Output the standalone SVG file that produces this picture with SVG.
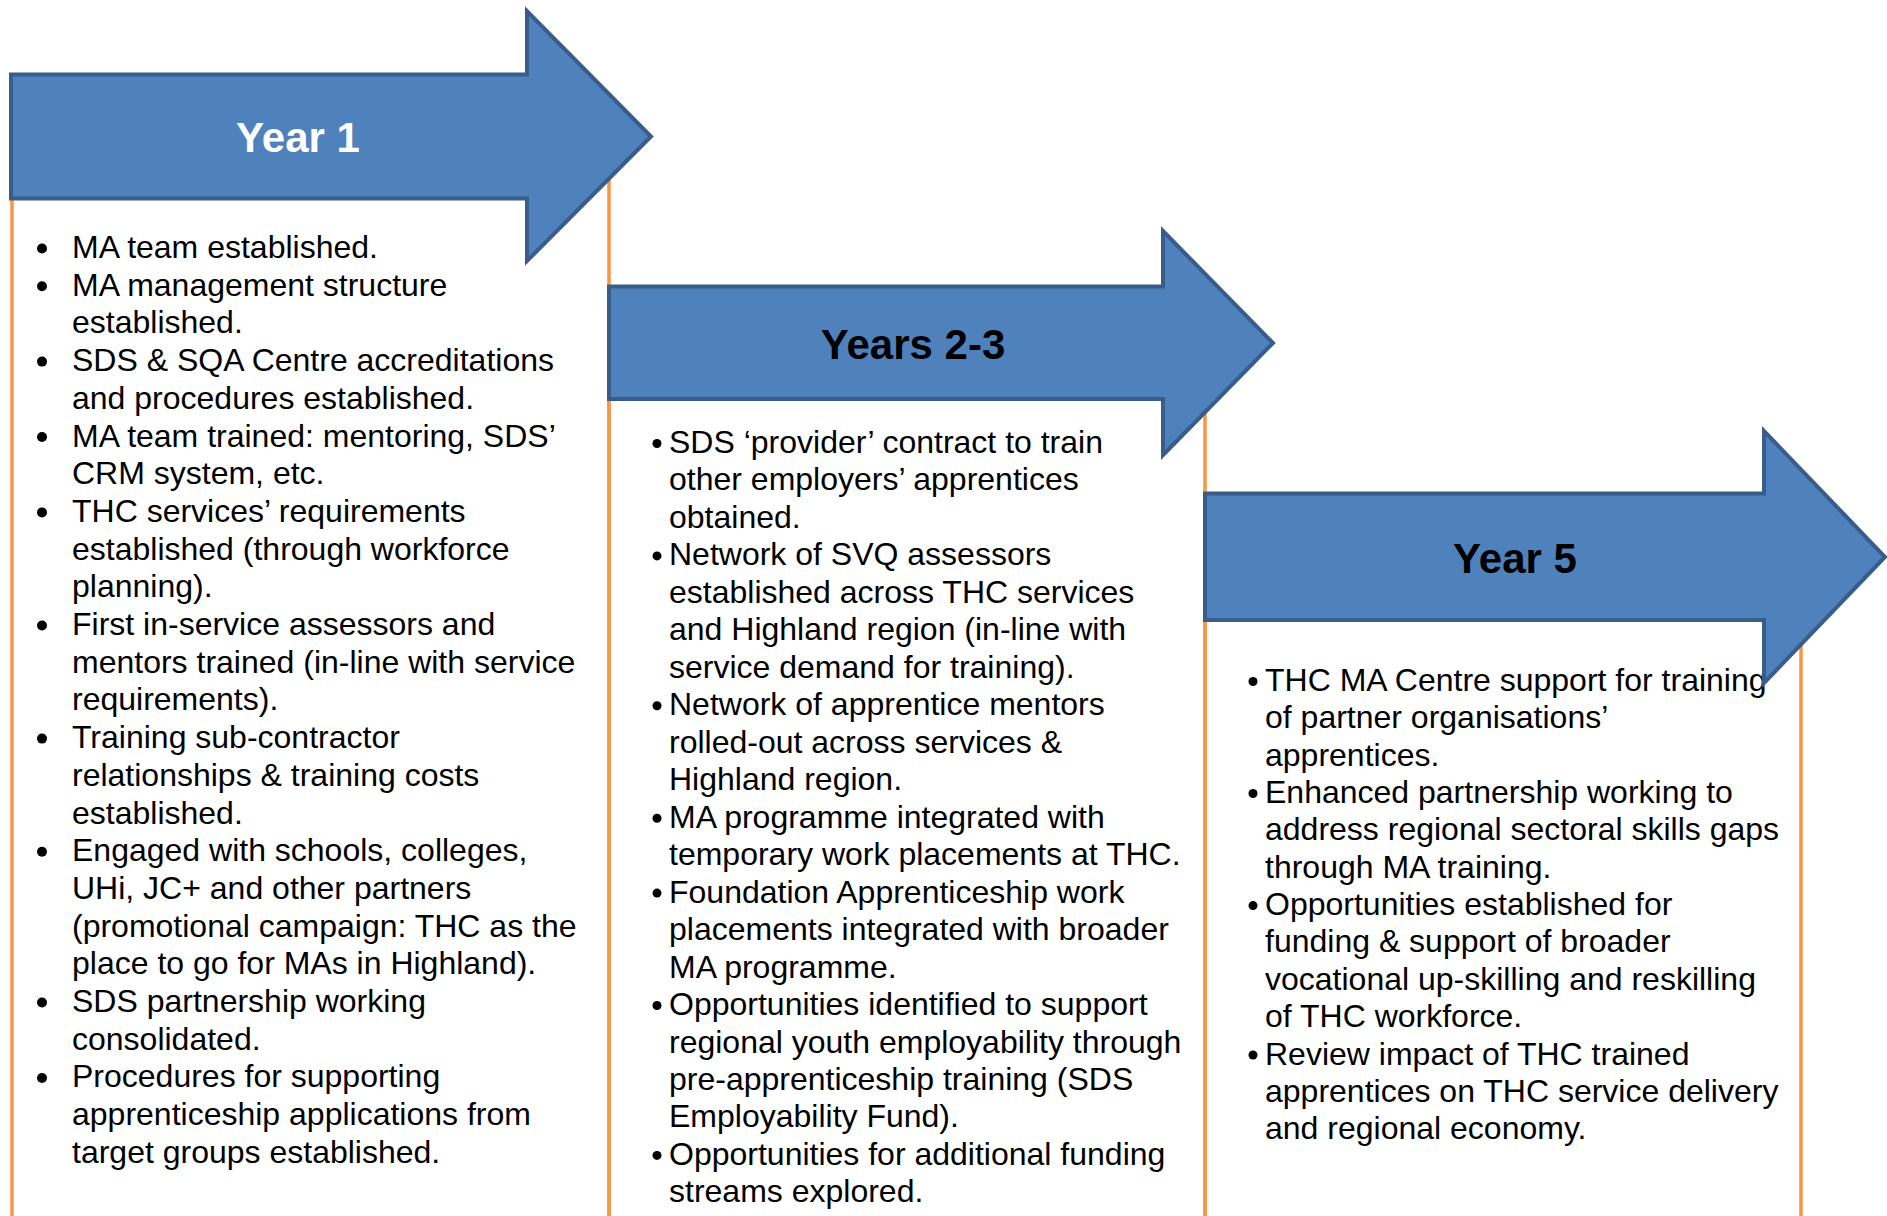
<svg xmlns="http://www.w3.org/2000/svg" width="1887" height="1216" viewBox="0 0 1887 1216">
<style>
.box{fill:none;stroke:#F79646;stroke-width:3.5}
.arrow{fill:#4F81BD;stroke:#385D8A;stroke-width:4;stroke-linejoin:miter}
.head{font-family:"Liberation Sans",Arial,sans-serif;font-weight:bold;font-size:42px;text-anchor:middle}
.t{font-family:"Liberation Sans",Arial,sans-serif;font-size:32px;fill:#000}
.b{fill:#000}
</style>
<rect width="1887" height="1216" fill="#fff"/>
<g id="boxes">
<rect class="box" x="12" y="140" width="597" height="1100"/>
<rect class="box" x="609" y="340" width="596" height="900"/>
<rect class="box" x="1205" y="560" width="596" height="700"/>
</g>
<g id="col1">
<g class="b">
<circle cx="42" cy="248.5" r="5"/><circle cx="42" cy="286.2" r="5"/><circle cx="42" cy="361.6" r="5"/><circle cx="42" cy="437" r="5"/><circle cx="42" cy="512.4" r="5"/><circle cx="42" cy="625.5" r="5"/><circle cx="42" cy="738.6" r="5"/><circle cx="42" cy="851.7" r="5"/><circle cx="42" cy="1002.5" r="5"/><circle cx="42" cy="1078" r="5"/>
</g>
<text class="t">
<tspan x="72" y="258">MA team established.</tspan>
<tspan x="72" y="295.7">MA management structure</tspan>
<tspan x="72" y="333.4">established.</tspan>
<tspan x="72" y="371.1">SDS &amp; SQA Centre accreditations</tspan>
<tspan x="72" y="408.8">and procedures established.</tspan>
<tspan x="72" y="446.5">MA team trained: mentoring, SDS’</tspan>
<tspan x="72" y="484.2">CRM system, etc.</tspan>
<tspan x="72" y="521.9">THC services’ requirements</tspan>
<tspan x="72" y="559.6">established (through workforce</tspan>
<tspan x="72" y="597.3">planning).</tspan>
<tspan x="72" y="635">First in-service assessors and</tspan>
<tspan x="72" y="672.7">mentors trained (in-line with service</tspan>
<tspan x="72" y="710.4">requirements).</tspan>
<tspan x="72" y="748.1">Training sub-contractor</tspan>
<tspan x="72" y="785.8">relationships &amp; training costs</tspan>
<tspan x="72" y="823.5">established.</tspan>
<tspan x="72" y="861.2">Engaged with schools, colleges,</tspan>
<tspan x="72" y="898.9">UHi, JC+ and other partners</tspan>
<tspan x="72" y="936.6">(promotional campaign: THC as the</tspan>
<tspan x="72" y="974.3">place to go for MAs in Highland).</tspan>
<tspan x="72" y="1012">SDS partnership working</tspan>
<tspan x="72" y="1049.7">consolidated.</tspan>
<tspan x="72" y="1087.4">Procedures for supporting</tspan>
<tspan x="72" y="1125.1">apprenticeship applications from</tspan>
<tspan x="72" y="1162.8">target groups established.</tspan>
</text>
</g>
<g id="col2">
<g class="b">
<circle cx="657" cy="443.5" r="4.5"/><circle cx="657" cy="555.9" r="4.5"/><circle cx="657" cy="705.8" r="4.5"/><circle cx="657" cy="818.2" r="4.5"/><circle cx="657" cy="893.1" r="4.5"/><circle cx="657" cy="1005.5" r="4.5"/><circle cx="657" cy="1155.4" r="4.5"/>
</g>
<text class="t">
<tspan x="669" y="453">SDS ‘provider’ contract to train</tspan>
<tspan x="669" y="490.47">other employers’ apprentices</tspan>
<tspan x="669" y="527.94">obtained.</tspan>
<tspan x="669" y="565.41">Network of SVQ assessors</tspan>
<tspan x="669" y="602.88">established across THC services</tspan>
<tspan x="669" y="640.35">and Highland region (in-line with</tspan>
<tspan x="669" y="677.82">service demand for training).</tspan>
<tspan x="669" y="715.29">Network of apprentice mentors</tspan>
<tspan x="669" y="752.76">rolled-out across services &amp;</tspan>
<tspan x="669" y="790.23">Highland region.</tspan>
<tspan x="669" y="827.7">MA programme integrated with</tspan>
<tspan x="669" y="865.17">temporary work placements at THC.</tspan>
<tspan x="669" y="902.64">Foundation Apprenticeship work</tspan>
<tspan x="669" y="940.11">placements integrated with broader</tspan>
<tspan x="669" y="977.58">MA programme.</tspan>
<tspan x="669" y="1015.05">Opportunities identified to support</tspan>
<tspan x="669" y="1052.52">regional youth employability through</tspan>
<tspan x="669" y="1089.99">pre-apprenticeship training (SDS</tspan>
<tspan x="669" y="1127.46">Employability Fund).</tspan>
<tspan x="669" y="1164.93">Opportunities for additional funding</tspan>
<tspan x="669" y="1202.4">streams explored.</tspan>
</text>
</g>
<g id="col3">
<g class="b">
<circle cx="1253" cy="681.5" r="4.5"/><circle cx="1253" cy="793.5" r="4.5"/><circle cx="1253" cy="905.6" r="4.5"/><circle cx="1253" cy="1055" r="4.5"/>
</g>
<text class="t">
<tspan x="1265" y="691">THC MA Centre support for training</tspan>
<tspan x="1265" y="728.35">of partner organisations’</tspan>
<tspan x="1265" y="765.7">apprentices.</tspan>
<tspan x="1265" y="803.05">Enhanced partnership working to</tspan>
<tspan x="1265" y="840.4">address regional sectoral skills gaps</tspan>
<tspan x="1265" y="877.75">through MA training.</tspan>
<tspan x="1265" y="915.1">Opportunities established for</tspan>
<tspan x="1265" y="952.45">funding &amp; support of broader</tspan>
<tspan x="1265" y="989.8">vocational up-skilling and reskilling</tspan>
<tspan x="1265" y="1027.15">of THC workforce.</tspan>
<tspan x="1265" y="1064.5">Review impact of THC trained</tspan>
<tspan x="1265" y="1101.85">apprentices on THC service delivery</tspan>
<tspan x="1265" y="1139.2">and regional economy.</tspan>
</text>
</g>
<g id="year1">
<polygon class="arrow" points="11,74.6 527,74.6 527,11 651,136.5 527,261 527,198.6 11,198.6"/>
<text class="head" x="298" y="152" fill="#fff">Year 1</text>
</g>
<g id="years2-3">
<polygon class="arrow" points="609,286.4 1163,286.4 1163,231 1273,343 1163,455 1163,399 609,399"/>
<text class="head" x="913" y="359" fill="#000">Years 2-3</text>
</g>
<g id="year5">
<polygon class="arrow" points="1205,493.4 1764,493.4 1764,431 1885,557 1764,683 1764,620 1205,620"/>
<text class="head" x="1515" y="573" fill="#000">Year 5</text>
</g>
</svg>
